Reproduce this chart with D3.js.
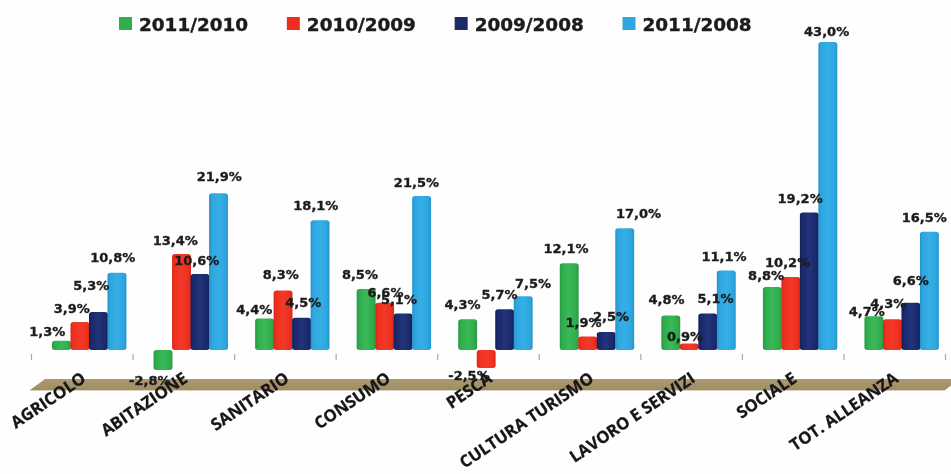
<!DOCTYPE html>
<html><head><meta charset="utf-8">
<script src="https://cdn.jsdelivr.net/npm/d3@7"></script>
<style>html,body{margin:0;padding:0;background:#fff}svg{display:block}</style>
</head><body><div id="c"></div>
<script>
const categories=["AGRICOLO","ABITAZIONE","SANITARIO","CONSUMO","PESCA","CULTURA TURISMO","LAVORO E SERVIZI","SOCIALE","TOT. ALLEANZA"];
const seriesNames=["2011/2010","2010/2009","2009/2008","2011/2008"];
const s20112010=[1.3,-2.8,4.4,8.5,4.3,12.1,4.8,8.8,4.7];
const s20102009=[3.9,13.4,8.3,6.6,-2.5,1.9,0.9,10.2,4.3];
const s20092008=[5.3,10.6,4.5,5.1,5.7,2.5,5.1,19.2,6.6];
const s20112008=[10.8,21.9,18.1,21.5,7.5,17.0,11.1,43.0,16.5];
const values=[s20112010,s20102009,s20092008,s20112008];
const colors=["#30ad4b","#ee2f1f","#1b2a6b","#2ea6df"];
const darks=["#27984a","#d9281a","#141f58","#2492cc"];
const lights=["#3ab957","#f23a28","#22337a","#35aee6"];
// label nudges (layout only), per category then series
const nudge=[
[[-14,0],[-8,-5],[-7,-18],[-4,-6]],
[[-13,1],[-6,-5],[-3,-5],[1,-8]],
[[-10,0],[-2,-7],[2,-6],[-4,-6]],
[[-6,-6],[1,-1],[-4,-5],[-5,-5]],
[[-5,-6],[-17,-1],[-5,-6],[10,-4]],
[[-3,-6],[-4,-5],[5,-7],[14,-6]],
[[-4,-7],[-4,2],[8,-6],[-2,-5]],
[[-6,-2],[-3,-5],[-9,-5],[-1,-2]],
[[-7,4],[-4,-7],[0,-13],[-5,-5]]];
const W=951,H=474;
const svg=d3.select("#c").append("svg").attr("width",W).attr("height",H);
const defs=svg.append("defs");
defs.append("filter").attr("id","soft").attr("x","-5%").attr("y","-5%").attr("width","110%").attr("height","110%")
 .append("feGaussianBlur").attr("stdDeviation",0.6);
colors.forEach((c,i)=>{
 const g=defs.append("linearGradient").attr("id","g"+i);
 [[0,darks[i]],[0.15,c],[0.5,lights[i]],[0.85,c],[1,darks[i]]].forEach(d=>g.append("stop").attr("offset",d[0]).attr("stop-color",d[1]));
});
const pg=defs.append("linearGradient").attr("id","plat").attr("x1",0).attr("x2",0).attr("y1",0).attr("y2",1);
pg.append("stop").attr("offset",0).attr("stop-color","#ad9a72");
pg.append("stop").attr("offset",1).attr("stop-color","#a08d63");
const root=svg.append("g").attr("filter","url(#soft)");
root.append("rect").attr("width",W).attr("height",H).attr("fill","#fefefe");

const x=d3.scaleLinear().domain([0,categories.length]).range([31,945]);
const y=d3.scaleLinear().domain([0,43]).range([350,42]);
const inner=d3.scaleBand().domain(seriesNames).range([21,95]);

// floor
root.append("path").attr("d","M45,379 L960,379 L945,390 L30,390 Z").attr("fill","url(#plat)");
root.append("path").attr("d","M30,390.5 L945,390.5").attr("stroke","#d8d2c2").attr("stroke-width",1);

// ticks
const axis=d3.axisBottom(x).tickValues(d3.range(categories.length+1)).tickSize(6).tickFormat("");
const ax=root.append("g").attr("transform","translate(0,354)").call(axis);
ax.select(".domain").remove();
ax.selectAll("line").attr("stroke","#aaa").attr("stroke-width",1.2);

// bars
const fmt=v=>v.toFixed(1).replace(".",",")+"%";
const rows=categories.flatMap((c,i)=>seriesNames.map((s,j)=>({i,j,v:values[j][i]})));
const bars=root.append("g");
bars.selectAll("rect").data(rows).join("rect")
 .attr("x",d=>x(d.i)+inner(seriesNames[d.j]))
 .attr("width",inner.bandwidth()+0.4)
 .attr("y",d=>Math.min(y(d.v),y(0)))
 .attr("height",d=>Math.abs(y(d.v)-y(0)))
 .attr("rx",3).attr("ry",2.5)
 .attr("fill",d=>`url(#g${d.j})`);

// value labels
root.append("g").selectAll("text").data(rows).join("text")
 .attr("x",d=>x(d.i)+inner(seriesNames[d.j])+inner.bandwidth()/2+nudge[d.i][d.j][0])
 .attr("y",d=>(d.v>=0?y(d.v)-9:y(d.v)+9)+nudge[d.i][d.j][1])
 .attr("text-anchor","middle").attr("dominant-baseline","central")
 .attr("font-family","DejaVu Sans").attr("font-weight","bold").attr("font-size",13)
 .attr("stroke","#222").attr("stroke-width",0.35)
 .attr("fill","#1a1a1a").text(d=>fmt(d.v));

// category labels
root.append("g").selectAll("text").data(categories).join("text")
 .attr("transform",(d,i)=>`translate(${x(i)+56},${381}) rotate(-34)`)
 .attr("text-anchor","end")
 .attr("font-family","Open Sans").attr("font-weight","bold").attr("font-size",16.5)
 .attr("stroke","#1c1c1c").attr("stroke-width",0.3)
 .attr("fill","#141414").text(d=>d);

// legend
const legendX=d3.scalePoint().domain(seriesNames).range([119,622.5]);
const lg=root.append("g").selectAll("g").data(seriesNames).join("g").attr("transform",d=>`translate(${legendX(d)},17)`);
lg.append("rect").attr("width",13).attr("height",13).attr("fill",(d,i)=>colors[i]);
lg.append("text").attr("x",20).attr("y",13.5).attr("font-family","DejaVu Sans").attr("font-weight","bold").attr("font-size",18.4)
 .attr("stroke","#222").attr("stroke-width",0.4).attr("fill","#1a1a1a").text(d=>d);
</script></body></html>
